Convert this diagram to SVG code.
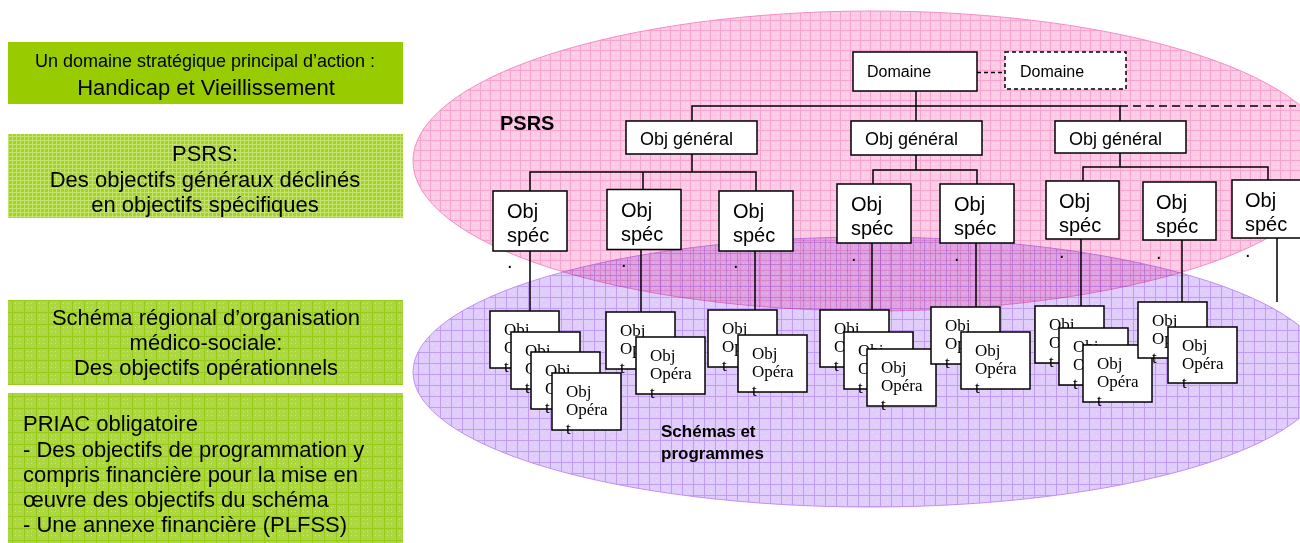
<svg xmlns="http://www.w3.org/2000/svg" width="1300" height="543" viewBox="0 0 1300 543">
<style>
.sans{font-family:"Liberation Sans",Arial,sans-serif;fill:#000}
.serif{font-family:"Liberation Serif","Times New Roman",serif;fill:#000;font-size:17px}
.box{fill:#fff;stroke:#000;stroke-width:1.5}
.dbox{fill:#fff;stroke:#000;stroke-width:1.5;stroke-dasharray:4 3}
.ln{stroke:#000;stroke-width:1.5;fill:none}
.dash{stroke:#000;stroke-width:1.5;fill:none;stroke-dasharray:8 5}
.t16{font-size:16px}
.t18{font-size:18px}
.t20{font-size:20px}
.t22{font-size:22px}
.mid{text-anchor:middle}
.b{font-weight:bold}
</style>
<defs>
<pattern id="pk" width="10" height="10" patternUnits="userSpaceOnUse">
<rect width="10" height="10" fill="#fbcae4"/>
<rect x="3" y="3" width="1" height="1" fill="#fde6f2"/>
<rect x="7" y="7" width="1" height="1" fill="#fde6f2"/>
<rect x="3" y="7" width="1" height="1" fill="#fde6f2"/>
<rect x="7" y="3" width="1" height="1" fill="#fde6f2"/>
<path d="M0 0.5H10M0.5 0V10" stroke="#f5a5d0" stroke-width="1"/>
</pattern>
<pattern id="pu" width="11" height="11" patternUnits="userSpaceOnUse">
<rect width="11" height="11" fill="#e1cdfc"/>
<rect x="3" y="3" width="1" height="1" fill="#ede2fe"/>
<rect x="7" y="7" width="1" height="1" fill="#ede2fe"/>
<path d="M0 0.5H11M0.5 0V11" stroke="#c29bf3" stroke-width="1"/>
</pattern>
<pattern id="g2" width="4" height="4" patternUnits="userSpaceOnUse">
<rect width="4" height="4" fill="#a6d322"/>
<path d="M0 0.5H4M0.5 0V4" stroke="#c4e470" stroke-width="1"/>
</pattern>
<pattern id="g3" width="12" height="12" patternUnits="userSpaceOnUse">
<rect width="12" height="12" fill="#acd743"/>
<rect x="3" y="3" width="1" height="1" fill="#cbe88a"/>
<rect x="7" y="3" width="1" height="1" fill="#cbe88a"/>
<rect x="3" y="7" width="1" height="1" fill="#cbe88a"/>
<rect x="7" y="7" width="1" height="1" fill="#cbe88a"/>
<path d="M0 0.5H12M0.5 0V12" stroke="#98ca18" stroke-width="1"/>
</pattern>
</defs>

<!-- background regions -->
<ellipse id="psrs-zone" cx="873" cy="161" rx="460" ry="150" fill="url(#pk)" stroke="#f48cc4" stroke-width="1"/>
<ellipse id="schemas-zone" cx="870" cy="372" rx="457" ry="135" fill="url(#pu)" stroke="#c090f0" stroke-width="1" style="mix-blend-mode:multiply"/>
<text class="sans b" x="500" y="130" style="font-size:20px">PSRS</text>
<text class="sans b" x="661" y="437" style="font-size:17px">Schémas et</text>
<text class="sans b" x="661" y="459" style="font-size:17px">programmes</text>

<!-- left panels -->
<g id="panel-domaine">
<rect x="8" y="42" width="395" height="62" fill="#99cc00"/>
<text class="sans mid t18" x="205" y="67">Un domaine stratégique principal d’action :</text>
<text class="sans mid t22" x="206" y="95">Handicap et Vieillissement</text>
</g>
<g id="panel-psrs">
<rect x="8" y="134" width="395" height="84" fill="url(#g2)"/>
<text class="sans mid t22" x="205" y="161">PSRS:</text>
<text class="sans mid t22" x="205" y="186.5">Des objectifs généraux déclinés</text>
<text class="sans mid t22" x="205" y="211.5">en objectifs spécifiques</text>
</g>
<g id="panel-schema">
<rect x="8" y="300" width="395" height="85" fill="url(#g3)"/>
<text class="sans mid t22" x="206" y="325">Schéma régional d’organisation</text>
<text class="sans mid t22" x="206" y="350">médico-sociale:</text>
<text class="sans mid t22" x="206" y="375">Des objectifs opérationnels</text>
</g>
<g id="panel-priac">
<rect x="8" y="393" width="395" height="160" fill="url(#g3)"/>
<text class="sans t22" x="23" y="431">PRIAC obligatoire</text>
<text class="sans t22" x="23" y="456.5">- Des objectifs de programmation y</text>
<text class="sans t22" x="23" y="481.5">compris financière pour la mise en</text>
<text class="sans t22" x="23" y="506.5">œuvre des objectifs du schéma</text>
<text class="sans t22" x="23" y="531.5">- Une annexe financière (PLFSS)</text>
</g>

<!-- connectors -->
<g id="connectors">
<line class="dash" x1="977" y1="72.5" x2="1005" y2="72.5" style="stroke-dasharray:4 3"/>
<path class="ln" d="M916 91V121M692 121V106H1120V121"/>
<line class="dash" x1="1120" y1="106" x2="1296" y2="106"/>
<path class="ln" d="M692 154V172M530 191V172H756V191M643 172V189.5"/>
<path class="ln" d="M916 155V170M873 184V170H977V184"/>
<path class="ln" d="M1120 153V167M1083 181V167H1268V180"/>
<path class="ln" d="M530 251V311M641 249.5V312M755 251V310M872 243V310M976 243V307M1081 239V306M1182 240V302M1277 238V302"/>
</g>

<!-- tree nodes -->
<g id="domaine"><rect class="box" x="853" y="52" width="124" height="39"/><text class="sans t16" x="867" y="77">Domaine</text></g>
<g id="domaine-2"><rect class="dbox" x="1005" y="52" width="121" height="37"/><text class="sans t16" x="1020" y="77">Domaine</text></g>

<g id="obj-general-1"><rect class="box" x="626" y="121" width="131" height="33"/><text class="sans t18" x="640" y="145">Obj général</text></g>
<g id="obj-general-2"><rect class="box" x="851" y="121" width="131" height="34"/><text class="sans t18" x="865" y="145">Obj général</text></g>
<g id="obj-general-3"><rect class="box" x="1055" y="121" width="131" height="32"/><text class="sans t18" x="1069" y="145">Obj général</text></g>

<g id="obj-spec-a"><rect class="box" x="493" y="191" width="74" height="60"/><text class="sans t20" x="507" y="218">Obj</text><text class="sans t20" x="507" y="242">spéc</text><text class="sans t20" x="507" y="268">.</text></g>
<g id="obj-spec-b"><rect class="box" x="607" y="189.5" width="74" height="60"/><text class="sans t20" x="621" y="216.5">Obj</text><text class="sans t20" x="621" y="240.5">spéc</text><text class="sans t20" x="621" y="266.5">.</text></g>
<g id="obj-spec-c"><rect class="box" x="719" y="191" width="74" height="60"/><text class="sans t20" x="733" y="218">Obj</text><text class="sans t20" x="733" y="242">spéc</text><text class="sans t20" x="733" y="268">.</text></g>
<g id="obj-spec-d"><rect class="box" x="837" y="184" width="74" height="59"/><text class="sans t20" x="851" y="211">Obj</text><text class="sans t20" x="851" y="235">spéc</text><text class="sans t20" x="851" y="261">.</text></g>
<g id="obj-spec-e"><rect class="box" x="940" y="184" width="74" height="59"/><text class="sans t20" x="954" y="211">Obj</text><text class="sans t20" x="954" y="235">spéc</text><text class="sans t20" x="954" y="261">.</text></g>
<g id="obj-spec-f"><rect class="box" x="1046" y="181" width="73" height="58"/><text class="sans t20" x="1059" y="207.5">Obj</text><text class="sans t20" x="1059" y="231.5">spéc</text><text class="sans t20" x="1059" y="257.5">.</text></g>
<g id="obj-spec-g"><rect class="box" x="1143" y="182" width="73" height="58"/><text class="sans t20" x="1156" y="208.5">Obj</text><text class="sans t20" x="1156" y="232.5">spéc</text><text class="sans t20" x="1156" y="258.5">.</text></g>
<g id="obj-spec-h"><rect class="box" x="1232" y="180" width="72" height="58"/><text class="sans t20" x="1245" y="206.5">Obj</text><text class="sans t20" x="1245" y="230.5">spéc</text><text class="sans t20" x="1245" y="256.5">.</text></g>

<!-- operational objectives -->
<g id="op-a1"><rect class="box" x="490" y="311" width="69" height="57"/><text class="serif" x="504" y="334.5">Obj</text><text class="serif" x="504" y="353.3">Opéra</text><text class="serif" x="504" y="371.7">t</text></g>
<g id="op-a2"><rect class="box" x="511" y="332" width="69" height="57"/><text class="serif" x="525" y="355.5">Obj</text><text class="serif" x="525" y="374.3">Opéra</text><text class="serif" x="525" y="392.7">t</text></g>
<g id="op-a3"><rect class="box" x="531" y="352" width="69" height="57"/><text class="serif" x="545" y="375.5">Obj</text><text class="serif" x="545" y="394.3">Opéra</text><text class="serif" x="545" y="412.7">t</text></g>
<g id="op-a4"><rect class="box" x="552" y="373" width="69" height="57"/><text class="serif" x="566" y="396.5">Obj</text><text class="serif" x="566" y="415.3">Opéra</text><text class="serif" x="566" y="433.7">t</text></g>

<g id="op-b1"><rect class="box" x="606" y="312" width="69" height="57"/><text class="serif" x="620" y="335.5">Obj</text><text class="serif" x="620" y="354.3">Opéra</text><text class="serif" x="620" y="372.7">t</text></g>
<g id="op-b2"><rect class="box" x="636" y="337" width="69" height="57"/><text class="serif" x="650" y="360.5">Obj</text><text class="serif" x="650" y="379.3">Opéra</text><text class="serif" x="650" y="397.7">t</text></g>

<g id="op-c1"><rect class="box" x="708" y="310" width="69" height="57"/><text class="serif" x="722" y="333.5">Obj</text><text class="serif" x="722" y="352.3">Opéra</text><text class="serif" x="722" y="370.7">t</text></g>
<g id="op-c2"><rect class="box" x="738" y="335" width="69" height="57"/><text class="serif" x="752" y="358.5">Obj</text><text class="serif" x="752" y="377.3">Opéra</text><text class="serif" x="752" y="395.7">t</text></g>

<g id="op-d1"><rect class="box" x="820" y="310" width="69" height="57"/><text class="serif" x="834" y="333.5">Obj</text><text class="serif" x="834" y="352.3">Opéra</text><text class="serif" x="834" y="370.7">t</text></g>
<g id="op-d2"><rect class="box" x="844" y="332" width="69" height="57"/><text class="serif" x="858" y="355.5">Obj</text><text class="serif" x="858" y="374.3">Opéra</text><text class="serif" x="858" y="392.7">t</text></g>
<g id="op-d3"><rect class="box" x="867" y="349" width="69" height="57"/><text class="serif" x="881" y="372.5">Obj</text><text class="serif" x="881" y="391.3">Opéra</text><text class="serif" x="881" y="409.7">t</text></g>

<g id="op-e1"><rect class="box" x="931" y="307" width="69" height="57"/><text class="serif" x="945" y="330.5">Obj</text><text class="serif" x="945" y="349.3">Opéra</text><text class="serif" x="945" y="367.7">t</text></g>
<g id="op-e2"><rect class="box" x="961" y="332" width="69" height="57"/><text class="serif" x="975" y="355.5">Obj</text><text class="serif" x="975" y="374.3">Opéra</text><text class="serif" x="975" y="392.7">t</text></g>

<g id="op-f1"><rect class="box" x="1035" y="306" width="69" height="57"/><text class="serif" x="1049" y="329.5">Obj</text><text class="serif" x="1049" y="348.3">Opéra</text><text class="serif" x="1049" y="366.7">t</text></g>
<g id="op-f2"><rect class="box" x="1059" y="328" width="69" height="57"/><text class="serif" x="1073" y="351.5">Obj</text><text class="serif" x="1073" y="370.3">Opéra</text><text class="serif" x="1073" y="388.7">t</text></g>
<g id="op-f3"><rect class="box" x="1083" y="345" width="69" height="57"/><text class="serif" x="1097" y="368.5">Obj</text><text class="serif" x="1097" y="387.3">Opéra</text><text class="serif" x="1097" y="405.7">t</text></g>

<g id="op-g1"><rect class="box" x="1138" y="302" width="69" height="56"/><text class="serif" x="1152" y="325.5">Obj</text><text class="serif" x="1152" y="344.3">Opéra</text><text class="serif" x="1152" y="362.7">t</text></g>
<g id="op-g2"><rect class="box" x="1168" y="327" width="69" height="56"/><text class="serif" x="1182" y="350.5">Obj</text><text class="serif" x="1182" y="369.3">Opéra</text><text class="serif" x="1182" y="387.7">t</text></g>
</svg>
